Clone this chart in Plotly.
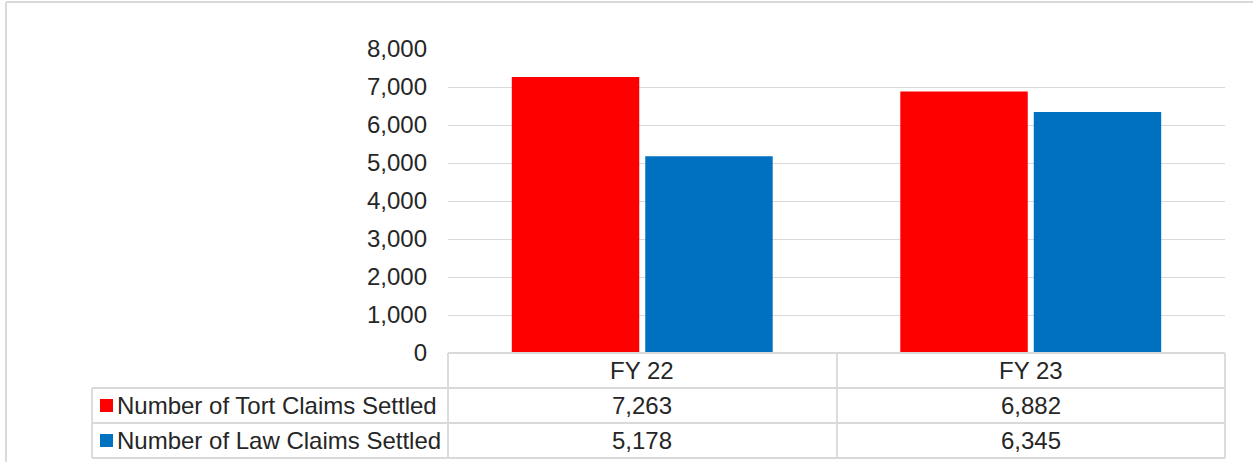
import plotly.graph_objects as go

categories = ["FY 22", "FY 23"]
series_names = ["Number of Tort Claims Settled", "Number of Law Claims Settled"]
tort_values = [7263, 6882]
law_values = [5178, 6345]
series_colors = ["#FF0000", "#0070C0"]
y_ticks = [0, 1000, 2000, 3000, 4000, 5000, 6000, 7000, 8000]

W, H = 1253, 462
FONT = "Liberation Sans, Arial, sans-serif"
FS = 24
TXT = "#262626"
LINE = "#D9D9D9"

def px(x):
    return x / W

def py(y):
    return (H - y) / H

x0, x1 = 448, 1225
y_top, y_bot = 49, 353

fig = go.Figure()
for name, vals, col in zip(series_names, [tort_values, law_values], series_colors):
    fig.add_trace(go.Bar(x=categories, y=vals, name=name, marker=dict(color=col, line=dict(width=0)),
                         showlegend=False, hoverinfo="x+y"))

shapes = []
# outer frame
shapes.append(dict(type="line", xref="paper", yref="paper", x0=px(6), x1=px(1260), y0=py(2), y1=py(2),
                   line=dict(color=LINE, width=2)))
shapes.append(dict(type="line", xref="paper", yref="paper", x0=px(6), x1=px(6), y0=py(2), y1=py(470),
                   line=dict(color=LINE, width=2)))
# table lines
rows_y = [353, 388, 423, 458]
tl = dict(color=LINE, width=1.8)
shapes.append(dict(type="line", xref="paper", yref="paper", x0=px(448), x1=px(1225), y0=py(353), y1=py(353), line=tl))
for yy in rows_y[1:]:
    shapes.append(dict(type="line", xref="paper", yref="paper", x0=px(92), x1=px(1225), y0=py(yy), y1=py(yy), line=tl))
shapes.append(dict(type="line", xref="paper", yref="paper", x0=px(92), x1=px(92), y0=py(388), y1=py(458), line=tl))
for xx in [448, 837, 1225]:
    shapes.append(dict(type="line", xref="paper", yref="paper", x0=px(xx), x1=px(xx), y0=py(353), y1=py(458), line=tl))

annotations = []
# header row
for c in categories:
    annotations.append(dict(x=c, xref="x", y=py(370.5), yref="paper", text=c, showarrow=False,
                            xanchor="center", yanchor="middle", font=dict(family=FONT, size=FS, color=TXT)))
# data rows
row_centers = [405.5, 440.5]
for name, vals, col, yc in zip(series_names, [tort_values, law_values], series_colors, row_centers):
    shapes.append(dict(type="rect", xref="paper", yref="paper", x0=px(100), x1=px(113),
                       y0=py(yc - 6.5), y1=py(yc + 6.5), fillcolor=col, line=dict(width=0)))
    annotations.append(dict(x=px(115), xref="paper", y=py(yc), yref="paper", text=name, showarrow=False,
                            xanchor="left", yanchor="middle", font=dict(family=FONT, size=FS, color=TXT)))
    for c, v in zip(categories, vals):
        annotations.append(dict(x=c, xref="x", y=py(yc), yref="paper", text=f"{v:,}", showarrow=False,
                                xanchor="center", yanchor="middle", font=dict(family=FONT, size=FS, color=TXT)))

fig.update_layout(
    width=W, height=H,
    margin=dict(l=0, r=0, t=0, b=0),
    paper_bgcolor="white", plot_bgcolor="white",
    barmode="group", bargap=0.313, bargroupgap=0.045,
    xaxis=dict(domain=[px(x0), px(x1)], range=[-0.5, 1.5], showticklabels=False, showgrid=False,
               zeroline=False, showline=False, ticks="", automargin=False),
    yaxis=dict(domain=[py(y_bot), py(y_top)], range=[0, 8000], tickvals=y_ticks,
               ticktext=[f"{t:,}" for t in y_ticks], showgrid=True, gridcolor=LINE, gridwidth=1.3,
               zeroline=False, showline=False, ticks="", ticklabelstandoff=20, automargin=False,
               tickfont=dict(family=FONT, size=FS, color=TXT)),
    shapes=shapes, annotations=annotations,
    font=dict(family=FONT),
)

fig.write_html("out.html", config={"displayModeBar": False},
               post_script="document.body.style.margin='0';document.body.style.overflow='hidden';")
